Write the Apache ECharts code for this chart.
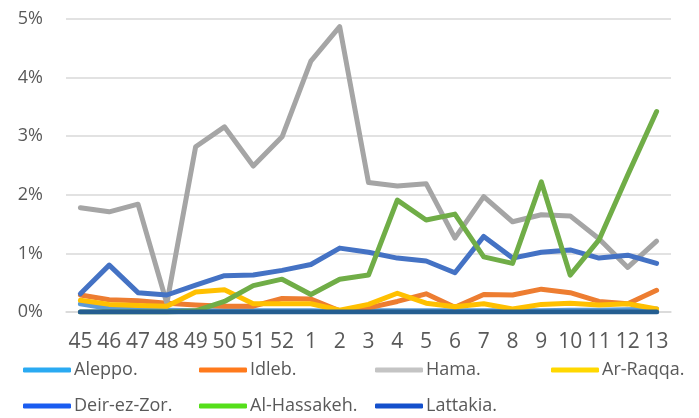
<!DOCTYPE html>
<html>
<head>
<meta charset="utf-8">
<script src="https://cdn.jsdelivr.net/npm/echarts@6/dist/echarts.min.js"></script>
<style>
  html, body { margin: 0; padding: 0; background: #ffffff; }
  #chart { width: 699px; height: 418px; }
</style>
</head>
<body>
<div id="chart"></div>
<script>
const categories = ['45','46','47','48','49','50','51','52','1','2','3','4','5','6','7','8','9','10','11','12','13'];
const seriesNames = ['Aleppo.','Idleb.','Hama.','Ar-Raqqa.','Deir-ez-Zor.','Al-Hassakeh.','Lattakia.'];
const aleppo    = [0.14,0.06,0.04,0.03,0.02,0.02,0.02,0.02,0.02,0.01,0.02,0.02,0.02,0.02,0.02,0.02,0.02,0.03,0.03,0.04,0.05];
const idleb     = [0.29,0.21,0.19,0.15,0.12,0.10,0.10,0.23,0.22,0.02,0.07,0.18,0.31,0.08,0.30,0.29,0.39,0.33,0.18,0.14,0.37];
const hama      = [1.78,1.71,1.84,0.15,2.82,3.16,2.49,2.99,4.28,4.87,2.21,2.15,2.19,1.26,1.97,1.54,1.66,1.64,1.25,0.76,1.21];
const arRaqqa   = [0.20,0.13,0.11,0.10,0.34,0.38,0.14,0.14,0.14,0.03,0.13,0.32,0.15,0.09,0.14,0.05,0.13,0.15,0.12,0.14,0.05];
const deirEzZor = [0.31,0.80,0.33,0.29,0.46,0.62,0.63,0.71,0.81,1.09,1.02,0.92,0.87,0.67,1.29,0.92,1.02,1.06,0.92,0.97,0.83];
const alHassakeh= [0,0,0,0,0.02,0.18,0.45,0.56,0.30,0.56,0.63,1.91,1.57,1.67,0.94,0.83,2.22,0.63,1.23,2.34,3.42];
const lattakia  = [0,0,0,0,0,0,0,0,0,0,0,0,0,0,0,0,0,0,0,0,0];
const yTicks = [0,1,2,3,4,5];

const allData = [aleppo, idleb, hama, arRaqqa, deirEzZor, alHassakeh, lattakia];
const lineColors = ['#5B9BD5','#ED7D31','#A5A5A5','#FFC000','#4472C4','#70AD47','#255E91'];
const legendColors = ['#2AAAF2','#FF7A1C','#C4C4C4','#FFD800','#1A5CF0','#55DF1A','#1450CC'];
const legendPos = [[23,361],[199,361],[375,361],[551,361],[23,397],[199,397],[375,397]];

const font = "'Open Sans', 'Noto Sans', sans-serif";

const legends = seriesNames.map((n, i) => ({
  left: legendPos[i][0],
  top: legendPos[i][1],
  icon: 'roundRect',
  itemWidth: 48,
  itemHeight: 5,
  padding: 0,
  selectedMode: false,
  textStyle: { fontFamily: font, fontSize: 18, color: '#595959', padding: [0,0,0,-2] },
  data: [{ name: n, itemStyle: { color: legendColors[i] } }]
}));

const series = seriesNames.map((n, i) => ({
  name: n,
  type: 'line',
  data: allData[i],
  showSymbol: false,
  symbol: 'none',
  smooth: false,
  animation: false,
  lineStyle: { color: lineColors[i], width: 5, cap: 'round', join: 'round' },
  itemStyle: { color: lineColors[i] },
  z: 2 + i
}));

const chart = echarts.init(document.getElementById('chart'), null, { renderer: 'canvas' });
chart.setOption({
  backgroundColor: '#ffffff',
  animation: false,
  grid: { left: 66, right: 28, top: 19, bottom: 106, containLabel: false },
  legend: legends,
  xAxis: {
    type: 'category',
    data: categories,
    boundaryGap: true,
    axisLine: { show: true, lineStyle: { color: '#D9D9D9', width: 1.5 } },
    axisTick: { show: false },
    axisLabel: { fontFamily: font, fontSize: 21, color: '#595959', margin: 20, interval: 0 }
  },
  yAxis: {
    type: 'value',
    min: yTicks[0],
    max: yTicks[yTicks.length - 1],
    interval: 1,
    axisLine: { show: false },
    axisTick: { show: false },
    splitLine: { show: true, lineStyle: { color: '#D9D9D9', width: 1.5 } },
    axisLabel: { fontFamily: font, fontSize: 18, color: '#595959', margin: 23, formatter: '{value}%' }
  },
  series: series
});
</script>
</body>
</html>
